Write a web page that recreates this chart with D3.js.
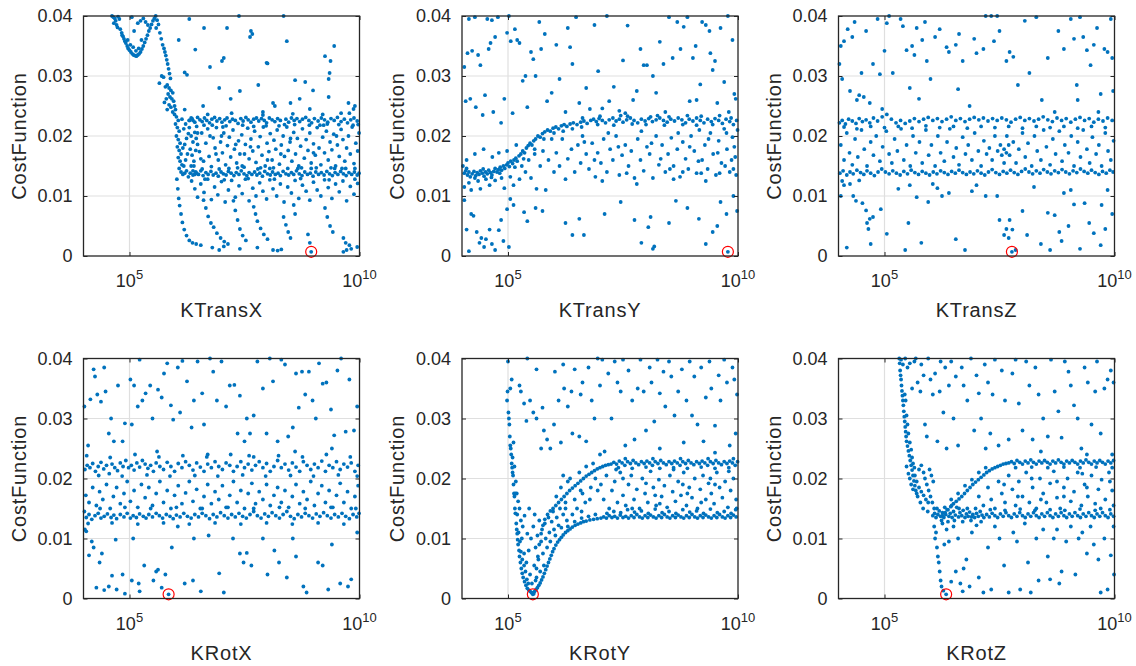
<!DOCTYPE html>
<html><head><meta charset="utf-8">
<script src="https://cdn.jsdelivr.net/npm/d3@7"></script>
<style>
body{margin:0;background:#fff}
svg{display:block}
text{font-family:"Liberation Sans",Arial,Helvetica,sans-serif;fill:#262626}
</style>
</head><body>
<svg id="chart" width="1136" height="666"></svg>
<script>
// Each point: [log10(K), CostFunction in units of 1e-4]
const Y_UNIT = 1e-4;

const kTransX = [
[4.62,400],[4.65,398],[4.68,396],[4.70,392],[4.66,388],[4.72,385],[4.75,399],[4.78,395],[4.74,381],[4.80,378],[4.83,372],[4.86,366],[4.88,362],[4.84,368],[4.90,358],[4.92,355],[4.95,350],[4.97,346],[5.00,343],[5.03,340],[5.06,337],[5.09,335],[5.12,334],[5.15,333],[5.18,335],[5.21,337],[5.24,340],[5.27,345],[5.30,350],[5.33,356],[5.36,362],[5.39,368],[5.42,375],[5.45,380],[5.48,386],[5.51,392],[5.54,396],[5.57,400],[4.96,360],[5.02,352],[5.08,348],[5.14,342],[5.20,346],[5.26,360],[5.10,375],[5.18,388],[5.24,392],[5.30,396],[5.05,398],[5.35,390],[5.40,385],[5.60,393],[5.63,386],[5.58,380],[5.66,372],[5.69,362],[5.72,352],[5.75,346],[5.77,340],[5.79,334],[5.81,327],[5.83,320],[5.85,312],[5.87,304],[5.70,300],[5.74,298],[5.89,296],
[5.78,282],[5.82,285],[5.86,280],[5.90,276],[5.94,272],[5.84,270],[5.88,265],[5.92,262],[5.96,258],[5.80,262],[5.76,256],[5.86,252],[5.90,248],[5.98,250],[6.00,244],[5.82,244],[5.94,240],[6.20,306],[6.25,302],[5.65,288],
[5.98,236],[6.02,232],[6.06,226],[6.00,220],[6.04,214],[6.08,208],[6.02,200],[6.06,194],[6.10,188],[6.04,182],[6.08,176],[6.12,170],[6.06,164],[6.10,158],[6.14,152],[6.08,146],[6.12,140],[6.16,136],[6.20,138],[6.24,142],[6.18,150],[6.22,160],[6.26,170],[6.16,180],[6.20,186],[6.24,196],[6.28,204],[6.18,212],[6.22,220],[6.30,226],[6.34,230],[6.38,226],[6.14,228],[6.30,214],[6.34,200],[6.38,190],[6.32,178],[6.36,168],[6.40,158],[6.34,150],[6.38,142],[6.42,136],[6.46,138],[6.28,132],[6.44,176],[6.48,186],[6.42,206],[6.46,216],
[6.30,226],[6.36,229],[6.42,223],[6.48,231],[6.53,227],[6.58,224],[6.63,230],[6.68,226],[6.74,222],[6.79,228],[6.85,231],[6.90,225],[6.96,229],[7.01,223],[7.07,227],[7.12,230],[7.18,224],[7.24,228],[7.30,226],[7.36,221],[7.42,229],[7.47,225],[7.53,231],[7.58,227],[7.64,223],[7.70,228],[7.76,230],[7.81,225],[7.87,229],[7.93,226],[7.98,222],[8.04,230],[8.10,227],[8.16,224],[8.22,229],[8.28,226],[8.40,228],[8.46,223],[8.52,230],[8.58,226],[8.64,229],[8.70,224],[8.76,228],[8.83,231],[8.90,226],[8.96,222],[9.02,229],[9.10,225],[9.17,230],[9.24,227],[9.31,223],[9.38,229],[9.45,226],[9.52,231],[9.60,224],[9.67,228],[9.74,222],[9.81,227],[9.88,230],[9.95,225],
[6.32,138],[6.38,135],[6.44,140],[6.50,136],[6.55,142],[6.60,134],[6.66,139],[6.71,136],[6.77,141],[6.82,135],[6.88,138],[6.93,133],[6.99,140],[7.04,137],[7.10,135],[7.15,141],[7.21,138],[7.27,134],[7.32,139],[7.38,136],[7.43,142],[7.49,137],[7.55,134],[7.60,139],[7.66,136],[7.72,140],[7.77,135],[7.83,138],[7.89,133],[7.94,141],[8.00,137],[8.06,135],[8.11,140],[8.17,136],[8.23,138],[8.28,134],[8.34,141],[8.40,137],[8.46,135],[8.52,139],[8.57,136],[8.63,142],[8.69,137],[8.75,134],[8.81,140],[8.87,136],[8.93,138],[8.99,133],[9.05,140],[9.11,136],[9.17,139],[9.23,135],[9.29,141],[9.35,137],[9.41,134],[9.47,139],[9.53,136],[9.59,141],[9.65,137],[9.71,134],[9.77,139],[9.83,136],[9.89,140],[9.95,135],[9.99,138],
[6.45,196],[6.52,174],[6.57,205],[6.61,158],[6.66,188],[6.70,212],[6.73,166],[6.78,149],[6.82,197],[6.86,180],[6.89,214],[6.93,160],[6.98,190],[7.02,172],[7.05,205],[7.09,152],[7.13,184],[7.17,198],[7.20,165],[7.25,210],[7.28,178],[7.33,155],[7.37,192],[7.40,170],[7.44,202],[7.49,148],[7.52,186],[7.57,213],[7.60,162],[7.64,195],[7.68,175],[7.72,208],[7.75,156],[7.80,182],[7.84,199],[7.88,168],[7.91,215],[7.95,150],[7.99,188],[8.03,174],[8.06,204],[8.10,160],[8.14,193],[8.18,178],[8.21,210],[8.26,153],[8.30,185],[8.34,200],[8.37,166],[8.42,215],[8.45,176],[8.49,190],[8.53,158],[8.57,206],[8.61,170],[8.65,196],[8.68,150],[8.72,183],[8.76,212],[8.80,163],[8.84,194],[8.88,176],[8.92,205],[8.95,155],[9.00,187],[9.04,168],[9.08,214],[9.12,180],[9.16,152],[9.20,198],[9.24,172],[9.28,208],[9.32,160],[9.36,190],[9.40,177],[9.44,203],[9.48,150],[9.52,185],[9.56,166],[9.60,211],[9.64,194],[9.68,158],[9.72,180],[9.76,200],[9.80,170],[9.84,215],[9.88,154],[9.92,188],[9.96,175],[9.99,205],[6.55,162],[7.00,200],[7.50,170],[8.00,160],[8.50,196],[9.00,172],[9.50,200],
[6.48,205],[6.62,218],[6.75,200],[6.88,170],[7.03,215],[7.16,146],[7.31,186],[7.46,218],[7.63,182],[7.79,145],[7.97,217],[8.13,147],[8.29,170],[8.44,146],[8.59,219],[8.74,147],[8.91,218],[9.06,147],[9.22,218],[9.38,147],[9.55,219],[9.70,146],[9.86,218],[6.40,150],[6.58,145],[6.95,145],[7.35,147],[7.70,216],[8.05,146],[8.37,219],[8.66,146],[9.14,218],[9.46,146],[9.90,146],[6.80,218],[7.10,217],[7.45,150],[7.85,147],[8.25,217],[8.95,146],[9.30,220],[9.62,146],[9.97,219],[6.70,236],[7.22,238],[7.90,235],[8.55,237],[9.20,236],[9.78,238],[6.64,128],[7.06,127],[7.58,129],[8.15,128],[8.72,129],[9.34,127],[9.90,128],
[6.35,125],[6.42,112],[6.48,98],[6.55,120],[6.62,106],[6.70,128],[6.78,94],[6.85,115],[6.92,102],[7.00,124],[7.08,90],[7.15,110],[7.22,126],[7.30,98],[7.38,117],[7.45,104],[7.52,128],[7.60,92],[7.68,113],[7.75,100],[7.83,122],[7.90,108],[7.98,95],[8.05,127],[8.12,112],[8.20,100],[8.28,120],[8.36,90],[8.44,115],[8.52,105],[8.60,126],[8.68,96],[8.76,118],[8.84,108],[8.92,93],[9.00,123],[9.08,110],[9.16,100],[9.24,127],[9.32,114],[9.40,96],[9.48,120],[9.56,107],[9.64,125],[9.72,92],[9.80,116],[9.88,103],[9.96,121],
[6.03,128],[6.05,112],[6.07,96],[6.09,84],[6.12,70],[6.15,56],[6.19,44],[6.24,34],[6.30,26],[6.37,22],[6.45,20],[6.55,18],
[6.61,93],[6.66,80],[6.71,66],[6.77,55],[6.83,48],[6.90,38],[6.98,30],[7.06,24],[7.14,20],
[7.26,92],[7.30,76],[7.35,60],[7.40,45],[7.46,34],[7.53,26],
[7.70,82],[7.74,70],[7.78,58],[7.85,46],[7.92,36],[8.00,28],
[8.35,65],[8.40,52],[8.45,40],[8.50,30],[8.57,85],[8.60,70],[8.88,36],[8.92,22],
[9.25,80],[9.30,65],[9.36,50],[9.42,40],[9.65,30],[9.70,22],[9.78,18],
[6.95,10],[7.40,12],[7.78,14],[8.12,10],[8.22,9],[8.30,11],[9.65,7],[9.72,10],[9.82,12],[9.95,15],[6.80,14],[7.05,16],
[6.07,360],[6.30,395],[6.43,344],[6.62,380],[6.75,315],[6.95,280],[7.01,325],[7.05,330],[7.12,380],[7.38,400],[7.40,275],[7.62,365],[7.64,375],[7.67,370],[7.80,285],[7.98,322],[8.00,321],[8.12,255],[8.16,250],[8.35,400],[8.42,358],[8.50,255],[8.60,293],[8.82,290],[8.92,245],[8.99,276],[9.25,333],[9.33,265],[9.33,295],[9.35,305],[9.37,325],[9.45,350],[9.76,255],[9.87,245],[6.20,244],[6.60,250],[7.20,262],[7.90,240],[8.70,262],[9.60,238],[9.90,250],
[8.95,7]
];

const kTransY = [
[4.02,150],[4.05,138],[4.08,142],[4.12,135],[4.15,140],[4.18,132],[4.22,137],[4.26,141],[4.30,134],[4.33,139],[4.37,136],[4.40,142],[4.44,138],[4.48,133],[4.51,140],[4.55,137],[4.58,143],[4.62,139],[4.65,135],[4.69,141],[4.72,146],[4.76,140],[4.79,144],[4.83,148],[4.86,143],[4.90,150],[4.93,146],[4.97,152],[5.00,155],[5.03,149],[5.06,158],[5.10,154],[5.13,160],[5.17,163],[5.20,158],[5.24,167],[5.28,170],[5.32,175],[5.36,172],[5.40,180],[5.44,184],[5.48,188],[5.52,185],[5.56,192],[5.60,195],[5.65,200],[5.70,198],[5.75,204],[5.80,207],[5.86,210],[5.92,208],[5.98,213],[6.04,215],[6.10,212],[6.16,217],[6.22,219],[6.28,216],[6.35,220],[6.42,222],[6.50,219],[6.58,223],[6.65,225],[6.72,221],[6.80,226],
[6.86,228],[6.92,224],[6.98,229],[7.05,226],[7.12,222],[7.20,227],[7.28,230],[7.35,225],[7.42,228],[7.50,223],[7.58,227],[7.66,230],[7.74,226],[7.82,222],[7.90,228],[7.98,225],[8.06,229],[8.14,224],[8.22,227],[8.30,230],[8.38,226],[8.46,223],[8.54,228],[8.62,225],[8.70,230],[8.78,227],[8.86,222],[8.94,228],[9.02,225],[9.10,230],[9.18,226],[9.26,222],[9.34,228],[9.42,224],[9.50,229],[9.58,226],[9.66,221],[9.74,228],[9.82,224],[9.90,219],[9.97,226],[8.50,232],[8.10,232],[7.60,233],[9.20,233],
[4.10,146],[4.28,130],[4.46,145],[4.64,131],[4.82,138],[5.15,148],[5.34,162],[5.58,178],[5.78,195],[6.00,205],[6.20,208],[6.40,212],[6.60,215],[6.95,219],[7.30,218],[7.70,220],[8.00,219],[8.40,218],[8.80,219],[9.10,218],[9.45,219],[9.85,230],[7.00,233],[7.45,234],[8.25,234],[8.90,234],[9.60,234],
[4.05,115],[4.10,160],[4.15,122],[4.20,110],[4.28,170],[4.35,125],[4.40,112],[4.47,178],[4.52,128],[4.60,118],[4.66,165],[4.72,126],[4.80,172],[4.86,130],[4.92,113],[4.98,175],[5.05,132],[5.12,118],[5.18,185],[5.25,128],[5.30,150],[5.38,140],[5.45,160],[5.50,130],[5.58,170],[5.62,112],[5.70,150],[5.76,175],[5.82,110],[5.88,160],[5.95,195],[6.00,140],[6.05,172],[6.12,150],[6.18,195],[6.25,128],[6.30,162],[6.38,178],[6.45,140],[6.52,185],[6.58,155],[6.62,200],[6.70,170],[6.76,145],[6.83,188],[6.90,132],[6.95,172],[7.02,155],[7.08,195],[7.15,140],[7.22,178],[7.28,160],[7.35,200],[7.42,135],[7.48,168],[7.55,185],[7.62,150],[7.68,175],[7.75,130],[7.82,195],[7.88,160],[7.95,142],[8.02,182],[8.08,170],[8.15,130],[8.22,200],[8.28,152],[8.35,185],[8.42,140],[8.48,170],[8.55,197],[8.60,150],[8.68,178],[8.74,132],[8.80,190],[8.86,162],[8.92,145],[8.98,200],[9.05,175],[9.10,138],[9.16,210],[9.22,160],[9.28,185],[9.34,145],[9.40,205],[9.46,170],[9.52,135],[9.58,192],[9.64,155],[9.70,212],[9.76,178],[9.82,140],[9.88,198],[9.94,165],[9.99,210],[9.60,138],[9.20,138],[8.80,140],[9.90,145],[9.75,205],
[6.66,190],[6.88,160],[7.18,205],[7.40,182],[7.58,138],[7.90,208],[8.12,188],[8.32,162],[8.52,145],[8.70,205],[8.95,182],[9.14,158],[9.36,195],[9.56,172],[9.72,150],[9.92,182],[9.86,160],[9.96,135],[7.05,125],[7.80,120],[8.60,128],[9.30,125],
[4.05,315],[4.08,258],[4.12,338],[4.15,395],[4.18,262],[4.22,342],[4.28,398],[4.30,248],[4.35,335],[4.40,318],[4.45,235],[4.50,268],[4.55,395],[4.58,345],[4.62,355],[4.65,393],[4.68,240],[4.72,365],[4.78,398],[4.85,222],[4.92,262],[4.98,372],[5.02,400],[5.06,358],[5.10,238],[5.15,378],[5.20,360],[5.25,355],[5.32,292],[5.38,300],[5.42,248],[5.50,340],[5.55,328],[5.60,300],[5.68,390],[5.72,345],[5.80,370],[5.85,258],[5.95,272],[6.05,352],[6.12,295],[6.25,240],[6.30,380],[6.35,348],[6.40,320],[6.48,398],[6.55,255],[6.62,230],[6.70,280],[6.78,245],[6.88,385],[6.96,308],[7.05,246],[7.15,400],[7.20,258],[7.30,282],[7.42,242],[7.50,326],[7.55,238],[7.60,384],[7.72,260],[7.80,275],[7.88,345],[7.95,318],[8.02,318],[8.15,300],[8.22,272],[8.30,357],[8.38,320],[8.42,240],[8.50,398],[8.58,330],[8.68,390],[8.75,345],[8.82,382],[8.90,398],[8.95,258],[9.02,330],[9.08,350],[9.10,260],[9.18,286],[9.22,390],[9.30,385],[9.38,375],[9.40,338],[9.45,310],[9.50,325],[9.55,255],[9.62,380],[9.70,290],[9.78,400],[9.88,360],[9.92,270],[9.95,262],[9.80,240],
[4.05,93],[4.10,44],[4.15,8],[4.20,70],[4.25,67],[4.32,40],[4.38,22],[4.42,30],[4.48,15],[4.52,28],[4.60,44],[4.65,20],[4.72,10],[4.80,43],[4.85,60],[4.90,25],[4.98,78],[5.02,15],[5.05,95],[5.12,85],[5.35,73],[5.42,58],[5.60,80],[5.75,75],[6.25,55],[6.40,35],[6.55,62],[6.65,35],[7.10,70],[7.45,90],[7.75,60],[7.90,22],[8.05,48],[8.10,65],[8.15,12],[8.18,16],[8.50,55],[8.65,92],[8.90,80],[9.15,62],[9.30,20],[9.45,40],[9.55,50],[9.62,90],[9.75,70],[9.90,100],[9.98,75],
[9.78,7]
];

const kTransZ = [
[4.02,222],[4.08,226],[4.15,220],[4.22,228],[4.30,225],[4.38,221],[4.45,229],[4.52,224],[4.60,227],[4.68,222],[4.76,230],[4.85,225],[4.95,232],[5.05,236],[5.15,228],[5.25,222],[5.35,226],[5.45,221],[5.55,225],[5.65,229],[5.75,224],[5.85,228],[5.95,231],[6.05,226],[6.15,229],[6.25,224],[6.35,228],[6.45,232],[6.55,226],[6.65,229],[6.75,224],[6.85,228],[6.95,231],[7.05,227],[7.15,230],[7.25,225],[7.35,229],[7.45,226],[7.55,230],[7.65,227],[7.75,223],[7.85,228],[7.95,231],[8.05,226],[8.15,229],[8.25,225],[8.35,228],[8.45,232],[8.55,227],[8.65,224],[8.75,230],[8.85,226],[8.95,229],[9.05,223],[9.15,228],[9.25,231],[9.35,226],[9.45,229],[9.55,223],[9.65,228],[9.75,225],[9.85,230],[9.95,226],
[4.12,215],[4.40,212],[4.70,216],[5.00,214],[5.30,216],[5.60,213],[5.90,217],[6.20,214],[6.50,216],[6.80,213],[7.10,216],[7.40,214],[7.70,216],[8.00,213],[8.30,216],[8.60,214],[8.90,216],[9.20,213],[9.50,216],[9.80,214],
[4.03,138],[4.10,142],[4.18,135],[4.25,140],[4.32,137],[4.40,143],[4.48,139],[4.55,136],[4.62,142],[4.70,138],[4.78,134],[4.86,140],[4.94,145],[5.02,140],[5.10,137],[5.18,142],[5.26,138],[5.34,135],[5.42,141],[5.50,137],[5.58,143],[5.66,139],[5.74,136],[5.82,141],[5.90,138],[5.98,135],[6.06,140],[6.14,137],[6.22,142],[6.30,139],[6.38,136],[6.46,141],[6.54,138],[6.62,143],[6.70,139],[6.78,136],[6.86,140],[6.94,137],[7.02,142],[7.10,138],[7.18,135],[7.26,140],[7.34,144],[7.42,139],[7.50,136],[7.58,141],[7.66,138],[7.74,143],[7.82,139],[7.90,136],[7.98,141],[8.06,145],[8.14,140],[8.22,137],[8.30,142],[8.38,138],[8.46,144],[8.54,140],[8.62,137],[8.70,142],[8.78,139],[8.86,144],[8.94,140],[9.02,137],[9.10,142],[9.18,139],[9.26,145],[9.34,141],[9.42,138],[9.50,143],[9.58,139],[9.66,136],[9.74,141],[9.82,138],[9.90,143],[9.97,140],
[4.05,185],[4.12,160],[4.18,205],[4.24,172],[4.30,152],[4.36,195],[4.42,165],[4.50,210],[4.56,178],[4.62,150],[4.70,190],[4.76,168],[4.82,200],[4.90,158],[4.96,182],[5.04,208],[5.10,170],[5.16,155],[5.22,195],[5.28,175],[5.36,212],[5.42,160],[5.48,185],[5.56,150],[5.62,200],[5.68,172],[5.76,190],[5.82,155],[5.90,210],[5.96,168],[6.02,185],[6.10,150],[6.16,200],[6.22,172],[6.30,158],[6.36,190],[6.42,212],[6.50,165],[6.56,180],[6.62,152],[6.70,198],[6.76,170],[6.82,185],[6.90,160],[6.96,205],[7.04,175],[7.10,150],[7.16,192],[7.22,170],[7.28,180],[7.34,160],[7.40,200],[7.46,175],[7.52,185],[7.60,155],[7.66,200],[7.72,168],[7.80,190],[7.86,155],[7.92,178],[8.00,205],[8.06,165],[8.12,188],[8.20,150],[8.26,200],[8.32,175],[8.40,160],[8.46,210],[8.52,182],[8.60,152],[8.66,195],[8.72,170],[8.80,208],[8.86,158],[8.92,185],[9.00,172],[9.06,200],[9.12,150],[9.20,190],[9.26,165],[9.32,210],[9.40,178],[9.46,155],[9.52,198],[9.60,170],[9.66,185],[9.72,150],[9.80,205],[9.86,175],[9.92,160],[9.98,192],[7.60,178],[7.65,172],[7.70,185],[7.55,168],
[4.05,100],[4.08,125],[4.12,118],[4.18,14],[4.25,120],[4.32,100],[4.38,92],[4.45,126],[4.52,88],[4.60,76],[4.62,55],[4.65,45],[4.68,62],[4.70,20],[4.75,65],[4.92,78],[5.05,37],[5.30,112],[5.45,10],[5.52,55],[5.55,118],[5.70,98],[5.80,22],[5.95,90],[6.05,120],[6.15,113],[6.25,100],[6.40,105],[6.55,28],[6.75,10],[6.90,108],[7.00,118],[7.20,100],[7.45,100],[7.50,60],[7.60,35],[7.65,45],[7.70,30],[7.72,60],[7.78,44],[7.85,10],[8.00,75],[8.10,35],[8.25,115],[8.40,20],[8.55,72],[8.60,10],[8.70,68],[8.80,40],[8.85,25],[8.90,105],[9.00,50],[9.05,110],[9.12,86],[9.25,12],[9.35,88],[9.45,55],[9.55,38],[9.70,18],[9.72,85],[9.80,45],[9.85,110],[9.95,70],
[4.02,320],[4.05,350],[4.08,295],[4.12,358],[4.20,378],[4.25,275],[4.30,365],[4.35,390],[4.40,260],[4.45,268],[4.50,305],[4.55,265],[4.60,375],[4.68,255],[4.75,320],[4.85,395],[4.90,303],[4.95,245],[5.00,342],[5.05,388],[5.10,400],[5.18,305],[5.35,395],[5.40,383],[5.48,343],[5.55,280],[5.60,350],[5.65,335],[5.70,380],[5.75,262],[5.82,360],[5.88,390],[5.92,325],[6.00,295],[6.10,365],[6.20,378],[6.35,348],[6.40,340],[6.55,352],[6.60,278],[6.62,370],[6.70,325],[6.85,250],[6.95,362],[7.00,338],[7.15,345],[7.20,400],[7.32,400],[7.38,358],[7.45,400],[7.50,375],[7.65,325],[7.72,340],[7.80,332],[7.90,285],[8.05,392],[8.15,305],[8.30,398],[8.42,260],[8.55,330],[8.70,240],[8.78,375],[8.90,345],[9.05,395],[9.12,362],[9.18,285],[9.25,398],[9.32,365],[9.40,343],[9.48,318],[9.55,352],[9.62,380],[9.70,270],[9.78,345],[9.85,340],[9.95,330],[9.92,395],[9.97,275],[9.65,240],[9.20,260],
[7.77,7]
];

const kRotX = [
[4.03,215],[4.08,222],[4.14,218],[4.20,225],[4.26,212],[4.32,220],[4.38,227],[4.44,216],[4.50,222],[4.56,208],[4.62,224],[4.68,218],[4.74,213],[4.80,226],[4.86,220],[4.92,230],[4.98,218],[5.04,222],[5.10,214],[5.16,226],[5.22,219],[5.28,230],[5.34,224],[5.40,217],[5.46,222],[5.52,212],[5.58,226],[5.66,220],[5.74,215],[5.82,227],[5.90,220],[5.98,212],[6.06,225],[6.14,218],[6.22,228],[6.30,222],[6.38,214],[6.46,226],[6.54,219],[6.62,212],[6.70,224],[6.78,218],[6.86,228],[6.94,220],[7.02,215],[7.10,226],[7.18,222],[7.26,212],[7.34,220],[7.42,228],[7.50,218],[7.58,224],[7.66,214],[7.74,222],[7.82,228],[7.90,218],[7.98,225],[8.06,212],[8.14,220],[8.22,230],[8.30,218],[8.38,224],[8.46,214],[8.54,226],[8.62,219],[8.70,212],[8.78,228],[8.86,222],[8.94,215],[9.02,224],[9.10,218],[9.18,229],[9.26,212],[9.34,222],[9.42,218],[9.50,228],[9.58,215],[9.66,224],[9.74,219],[9.82,226],[9.90,212],[9.97,222],
[4.07,238],[4.33,205],[4.58,235],[4.84,204],[5.12,240],[5.38,206],[5.64,236],[5.88,204],[6.16,238],[6.42,205],[6.68,236],[6.92,204],[7.20,240],[7.46,206],[7.70,236],[7.96,204],[8.24,238],[8.50,205],[8.76,236],[9.00,204],[9.28,240],[9.54,206],[9.80,236],[9.95,204],
[4.02,145],[4.06,135],[4.12,140],[4.18,132],[4.25,138],[4.32,142],[4.38,134],[4.45,137],[4.52,141],[4.60,135],[4.66,139],[4.72,133],[4.80,140],[4.88,136],[4.95,142],[5.02,134],[5.08,138],[5.15,135],[5.22,141],[5.30,137],[5.36,134],[5.42,140],[5.50,136],[5.58,142],[5.65,138],[5.72,134],[5.80,140],[5.88,137],[5.95,133],[6.02,139],[6.10,136],[6.18,142],[6.26,137],[6.34,134],[6.42,140],[6.50,136],[6.58,142],[6.66,138],[6.74,133],[6.82,140],[6.90,136],[6.98,143],[7.06,138],[7.14,134],[7.22,140],[7.30,136],[7.38,142],[7.46,137],[7.54,134],[7.62,140],[7.70,145],[7.78,138],[7.86,134],[7.94,141],[8.02,137],[8.10,143],[8.18,138],[8.26,134],[8.34,140],[8.42,145],[8.50,137],[8.58,133],[8.66,140],[8.74,136],[8.82,142],[8.90,138],[8.98,134],[9.06,141],[9.14,137],[9.22,143],[9.30,138],[9.38,134],[9.46,140],[9.54,136],[9.62,142],[9.70,137],[9.78,133],[9.86,140],[9.94,136],[9.99,142],
[4.10,125],[4.36,150],[4.62,126],[4.90,152],[5.18,124],[5.46,150],[5.74,126],[6.02,152],[6.30,124],[6.58,150],[6.86,126],[7.14,152],[7.42,124],[7.70,150],[7.98,126],[8.26,152],[8.54,124],[8.82,150],[9.10,126],[9.38,152],[9.66,124],[9.92,150],
[4.05,172],[4.12,160],[4.20,185],[4.28,155],[4.35,178],[4.42,165],[4.50,190],[4.58,150],[4.65,170],[4.72,185],[4.80,158],[4.88,175],[4.95,195],[5.02,162],[5.10,180],[5.18,152],[5.26,190],[5.34,168],[5.42,185],[5.50,155],[5.58,175],[5.66,195],[5.74,160],[5.82,180],[5.90,150],[5.98,172],[6.06,188],[6.14,158],[6.22,176],[6.30,195],[6.38,162],[6.46,182],[6.54,150],[6.62,170],[6.70,190],[6.78,158],[6.86,178],[6.94,165],[7.02,188],[7.10,152],[7.18,172],[7.26,195],[7.34,160],[7.42,180],[7.50,150],[7.58,175],[7.66,192],[7.74,158],[7.82,178],[7.90,165],[7.98,190],[8.06,155],[8.14,172],[8.22,185],[8.30,160],[8.38,180],[8.46,152],[8.54,170],[8.62,190],[8.70,158],[8.78,178],[8.86,165],[8.94,195],[9.02,155],[9.10,175],[9.18,188],[9.26,160],[9.34,180],[9.42,152],[9.50,172],[9.58,192],[9.66,160],[9.74,178],[9.82,150],[9.90,170],[9.97,188],
[4.02,320],[4.10,255],[4.15,332],[4.22,382],[4.25,370],[4.30,340],[4.38,328],[4.45,385],[4.48,345],[4.55,275],[4.60,300],[4.66,262],[4.75,355],[4.85,262],[4.90,292],[5.02,365],[5.05,290],[5.10,355],[5.18,320],[5.22,398],[5.28,330],[5.35,342],[5.45,355],[5.50,300],[5.62,348],[5.70,335],[5.75,375],[5.82,392],[5.90,322],[5.95,298],[6.05,385],[6.10,310],[6.15,396],[6.25,362],[6.35,285],[6.40,330],[6.48,395],[6.58,342],[6.62,290],[6.75,400],[6.82,378],[6.90,330],[7.00,395],[7.10,320],[7.18,355],[7.28,356],[7.35,275],[7.40,338],[7.50,262],[7.55,300],[7.62,275],[7.70,305],[7.78,395],[7.90,350],[7.98,275],[8.05,400],[8.12,362],[8.22,262],[8.30,398],[8.38,390],[8.45,270],[8.55,285],[8.62,375],[8.68,318],[8.75,378],[8.82,340],[8.90,378],[8.98,330],[9.05,300],[9.12,392],[9.20,358],[9.28,360],[9.38,315],[9.45,272],[9.52,380],[9.60,400],[9.70,278],[9.78,365],[9.88,280],[9.95,320],[9.40,250],[8.60,245],[7.60,238],[6.70,240],[5.60,245],
[4.03,115],[4.06,112],[4.12,72],[4.18,95],[4.22,85],[4.28,18],[4.35,60],[4.40,75],[4.45,14],[4.55,20],[4.62,38],[4.70,98],[4.72,15],[4.85,40],[4.90,8],[5.05,30],[5.08,100],[5.20,25],[5.22,12],[5.32,55],[5.52,30],[5.58,45],[5.62,48],[5.70,18],[5.78,40],[5.92,85],[6.05,120],[6.20,25],[6.38,30],[6.40,100],[6.55,12],[6.72,105],[6.95,42],[7.05,10],[7.25,100],[7.40,75],[7.48,60],[7.55,76],[7.65,55],[7.90,100],[8.00,40],[8.15,80],[8.25,60],[8.42,35],[8.55,100],[8.62,70],[8.78,20],[8.85,10],[9.10,60],[9.20,55],[9.32,15],[9.40,90],[9.58,25],[9.75,20],[9.82,32],[9.95,110],
[5.85,7]
];

const kRotY = [
[4.98,330],[4.99,345],[5.00,395],[5.01,310],[5.02,300],[5.03,290],[5.04,270],[5.05,255],[5.06,250],[5.08,365],[5.07,240],[5.08,225],[5.09,218],[5.10,210],[5.11,205],[5.12,190],[5.13,175],[5.14,170],[5.15,150],[5.16,142],[5.18,125],[5.19,115],[5.20,108],[5.21,98],[5.22,90],[5.24,80],[5.25,70],[5.27,60],[5.29,50],[5.31,42],[5.33,35],[5.36,28],[5.39,22],[5.42,17],[5.45,14],[5.48,12],[5.51,10],[5.53,9],[5.56,8],[5.10,235],[5.14,220],[5.17,195],[5.19,175],[5.23,110],[5.26,95],[5.28,78],[5.31,65],[5.35,55],[5.38,45],[5.41,32],[5.44,25],[5.12,260],[5.16,175],
[5.58,12],[5.61,15],[5.64,18],[5.67,22],[5.70,26],[5.73,31],[5.76,36],[5.79,42],[5.82,48],[5.85,54],[5.88,60],[5.91,66],[5.94,72],[5.97,78],[6.00,83],[6.04,89],[6.08,94],[6.12,98],[6.16,102],[6.20,106],[6.25,110],[6.30,113],[6.35,116],[6.40,119],[6.46,122],[6.52,124],[6.58,126],[6.64,128],[6.70,129],[6.78,131],[6.86,132],[6.94,133],[7.02,134],
[7.08,136],[7.14,134],[7.20,138],[7.26,135],[7.32,137],[7.38,134],[7.44,139],[7.50,135],[7.56,137],[7.62,134],[7.68,138],[7.74,135],[7.80,140],[7.86,136],[7.92,134],[7.98,138],[8.04,135],[8.10,139],[8.16,136],[8.22,134],[8.28,138],[8.34,135],[8.40,140],[8.46,136],[8.52,134],[8.58,138],[8.64,135],[8.70,139],[8.76,136],[8.82,134],[8.88,138],[8.94,135],[9.00,140],[9.06,136],[9.12,134],[9.18,138],[9.24,135],[9.30,139],[9.36,136],[9.42,134],[9.48,138],[9.54,135],[9.60,140],[9.66,136],[9.72,134],[9.78,138],[9.84,135],[9.90,139],[9.96,136],
[7.30,145],[7.60,148],[7.90,146],[8.20,149],[8.50,145],[8.80,148],[9.10,146],[9.40,149],[9.70,145],[9.95,148],[7.15,142],[7.45,143],[7.75,144],[8.05,142],[8.35,143],[8.65,142],[8.95,144],[9.25,142],[9.55,143],[9.85,142],[6.60,134],[6.75,137],[6.90,140],[6.45,128],[6.30,120],
[5.40,60],[5.45,80],[5.48,40],[5.50,100],[5.52,25],[5.55,120],[5.57,55],[5.60,85],[5.62,35],[5.64,105],[5.66,65],[5.68,130],[5.70,45],[5.72,95],[5.74,115],[5.76,75],[5.78,55],[5.80,125],[5.82,100],[5.85,85],[5.88,135],[5.90,110],[5.92,95],[5.95,128],[5.98,145],[6.00,115],[6.03,105],[6.06,135],[6.10,122],[6.13,150],[6.16,118],[6.20,140],[6.25,160],[6.28,130],[5.35,75],[5.30,100],[5.28,130],[5.32,120],[5.36,138],[5.42,108],[5.46,150],[5.58,140],[5.25,150],[5.22,162],[5.20,140],
[5.60,30],[5.62,50],[5.65,70],[5.68,90],[5.72,108],[5.76,122],[5.80,132],[5.86,140],[5.92,146],[5.98,150],[6.04,155],[6.10,160],[6.16,165],[6.22,170],[6.28,175],[6.34,180],[6.40,184],[6.46,188],[6.52,192],[6.58,196],[6.64,200],[6.70,204],[6.76,207],[6.82,210],[6.88,213],[6.94,216],[7.00,218],[7.06,220],[7.12,222],[7.18,223],[7.24,224],
[6.05,170],[6.15,185],[6.25,150],[6.35,200],[6.45,165],[6.55,210],[6.62,175],[6.70,220],[6.80,185],[6.90,200],[6.50,150],[6.68,160],[6.85,225],[6.30,195],[6.20,205],[6.40,140],[6.58,180],[6.78,165],[6.95,180],[6.60,145],
[7.30,227],[7.36,224],[7.42,229],[7.48,226],[7.54,222],[7.60,228],[7.66,225],[7.72,230],[7.78,226],[7.84,223],[7.90,228],[7.96,225],[8.02,229],[8.08,226],[8.14,222],[8.20,228],[8.26,225],[8.32,230],[8.38,226],[8.44,223],[8.50,228],[8.56,225],[8.62,229],[8.68,226],[8.74,222],[8.80,228],[8.86,225],[8.92,230],[8.98,226],[9.04,223],[9.10,228],[9.16,225],[9.22,229],[9.28,226],[9.34,222],[9.40,228],[9.46,225],[9.52,230],[9.58,226],[9.64,223],[9.70,228],[9.76,225],[9.82,229],[9.88,226],[9.94,222],[9.99,228],
[7.40,218],[7.70,217],[8.00,219],[8.30,217],[8.60,218],[8.90,217],[9.20,219],[9.50,217],[9.80,218],[7.55,233],[8.15,233],[8.75,233],[9.35,233],[9.90,233],
[7.02,190],[7.08,165],[7.14,205],[7.20,150],[7.26,180],[7.32,195],[7.38,160],[7.44,210],[7.50,172],[7.56,155],[7.62,190],[7.68,205],[7.74,165],[7.80,182],[7.86,150],[7.92,200],[7.98,175],[8.04,160],[8.10,212],[8.16,185],[8.22,155],[8.28,198],[8.34,170],[8.40,188],[8.46,152],[8.52,205],[8.58,178],[8.64,162],[8.70,195],[8.76,172],[8.82,210],[8.88,155],[8.94,185],[9.00,168],[9.06,200],[9.12,150],[9.18,182],[9.24,205],[9.30,165],[9.36,192],[9.42,175],[9.48,158],[9.54,210],[9.60,185],[9.66,168],[9.72,195],[9.78,152],[9.84,180],[9.90,200],[9.96,165],[7.35,215],[7.70,150],[8.00,192],[8.30,158],[8.60,215],[8.90,175],[9.20,160],[9.50,190],[9.80,212],[9.97,150],[7.50,200],[8.20,172],[8.80,190],[9.40,200],
[5.05,350],[5.25,355],[5.28,345],[5.35,325],[5.40,296],[5.42,400],[5.48,330],[5.55,310],[5.62,300],[5.62,382],[5.72,250],[5.75,318],[5.78,280],[5.85,265],[5.92,250],[6.00,290],[6.02,378],[6.10,330],[6.15,260],[6.20,390],[6.22,350],[6.30,320],[6.38,345],[6.40,275],[6.45,382],[6.55,270],[6.58,340],[6.62,360],[6.70,262],[6.75,385],[6.82,330],[6.88,300],[6.95,400],[7.00,355],[7.05,398],[7.10,245],[7.18,375],[7.25,300],[7.32,395],[7.38,360],[7.45,345],[7.50,398],[7.55,255],[7.62,380],[7.70,330],[7.75,265],[7.82,350],[7.88,398],[7.95,345],[8.00,280],[8.08,385],[8.12,360],[8.18,295],[8.25,398],[8.30,342],[8.38,378],[8.42,320],[8.50,395],[8.55,370],[8.62,305],[8.70,345],[8.78,382],[8.82,260],[8.88,330],[8.95,395],[9.00,305],[9.05,370],[9.12,290],[9.20,385],[9.25,262],[9.30,335],[9.38,395],[9.42,350],[9.50,288],[9.58,372],[9.62,330],[9.70,398],[9.76,360],[9.82,255],[9.88,385],[9.92,365],[9.98,340],[9.95,275],[8.30,250],[7.00,240],[9.50,243],
[5.54,7]
];

const kRotZ = [
[5.32,400],[5.33,392],[5.34,380],[5.35,372],[5.36,365],[5.37,355],[5.38,346],[5.39,338],[5.40,330],[5.41,322],[5.42,312],[5.43,303],[5.44,295],[5.45,286],[5.46,278],[5.47,270],[5.48,262],[5.50,254],[5.52,246],[5.54,238],[5.56,230],[5.58,222],[5.60,214],[5.62,205],[5.64,196],[5.66,188],[5.68,180],[5.70,175],[5.72,170],[5.36,398],[5.40,390],[5.44,340],[5.46,330],[5.48,305],[5.50,290],[5.52,275],[5.55,260],[5.58,248],[5.60,235],[5.62,225],[5.65,218],[5.55,200],[5.58,190],[5.62,182],[5.52,208],[5.48,220],[5.66,205],[5.70,195],[5.75,185],[5.80,178],[5.85,172],[5.90,165],[5.95,160],
[5.75,215],[5.80,222],[5.85,210],[5.88,200],[5.92,190],[5.96,180],[6.00,170],[6.04,160],[6.08,150],[5.98,215],[6.02,205],[6.06,195],[5.78,160],[5.84,150],[5.94,145],
[6.05,138],[6.09,142],[6.12,135],[6.16,140],[6.19,146],[6.22,137],[6.26,143],[6.29,135],[6.33,140],[6.36,148],[6.40,137],[6.43,142],[6.47,135],[6.50,145],[6.54,139],[6.57,152],[6.61,136],[6.64,143],[6.68,138],[6.71,147],[6.75,135],[6.78,141],[6.82,137],[6.85,144],[6.89,136],[6.92,140],[6.96,135],[7.00,142],[7.04,137],[7.08,145],[7.12,139],[7.16,135],
[6.14,150],[6.24,130],[6.31,152],[6.38,128],[6.46,155],[6.52,130],[6.62,150],[6.70,128],[6.80,150],[6.88,130],[6.98,150],[7.10,128],
[7.22,140],[7.28,136],[7.34,142],[7.40,138],[7.46,135],[7.52,141],[7.58,137],[7.64,143],[7.70,138],[7.76,135],[7.82,141],[7.88,137],[7.94,143],[8.00,138],[8.06,135],[8.12,141],[8.18,137],[8.24,143],[8.30,138],[8.36,135],[8.42,141],[8.48,137],[8.54,143],[8.60,138],[8.66,135],[8.72,141],[8.78,137],[8.84,143],[8.90,138],[8.96,135],[9.02,141],[9.08,137],[9.14,143],[9.20,138],[9.26,135],[9.32,141],[9.38,137],[9.44,143],[9.50,138],[9.56,135],[9.62,141],[9.68,137],[9.74,143],[9.80,138],[9.86,135],[9.92,141],[9.98,137],
[7.30,148],[7.62,147],[7.95,149],[8.27,147],[8.60,148],[8.92,147],[9.25,149],[9.58,147],[9.90,148],
[6.26,138],[6.32,143],[6.38,148],[6.44,153],[6.50,158],[6.56,162],[6.62,166],[6.68,170],[6.74,175],[6.80,180],[6.86,185],[6.92,190],[6.98,194],[7.04,198],[7.10,202],[7.16,206],[7.22,210],[7.28,213],[7.34,216],[7.40,218],[7.46,220],[7.52,222],[7.58,224],[7.64,225],[7.70,226],[6.45,165],[6.60,175],[6.75,188],[6.90,198],[7.05,210],[7.20,218],
[7.76,228],[7.82,225],[7.88,230],[7.94,227],[8.00,224],[8.06,229],[8.12,226],[8.18,231],[8.24,227],[8.30,224],[8.36,229],[8.42,226],[8.48,230],[8.54,227],[8.60,224],[8.66,229],[8.72,226],[8.78,231],[8.84,227],[8.90,224],[8.96,229],[9.02,226],[9.08,230],[9.14,227],[9.20,224],[9.26,229],[9.32,226],[9.38,231],[9.44,227],[9.50,224],[9.56,229],[9.62,226],[9.68,230],[9.74,227],[9.80,224],[9.86,229],[9.92,226],[9.98,230],
[7.85,218],[8.20,219],[8.55,218],[8.90,219],[9.25,218],[9.60,219],[9.95,218],
[7.05,170],[7.15,155],[7.25,185],[7.32,165],[7.40,150],[7.48,195],[7.55,175],[7.62,160],[7.70,205],[7.78,182],[7.85,155],[7.92,195],[8.00,170],[8.08,210],[8.15,160],[8.22,185],[8.30,150],[8.38,200],[8.45,175],[8.52,160],[8.60,192],[8.68,212],[8.75,168],[8.82,150],[8.90,185],[8.98,200],[9.05,162],[9.12,178],[9.20,210],[9.28,155],[9.35,190],[9.42,170],[9.50,205],[9.58,158],[9.65,182],[9.72,198],[9.80,165],[9.88,210],[9.95,180],[9.98,155],[7.90,170],[8.40,165],[8.90,170],[9.40,185],[9.90,195],[7.60,190],[8.20,200],[8.75,195],[9.30,208],[9.70,150],
[6.08,120],[6.10,100],[6.12,110],[6.14,85],[6.16,70],[6.18,60],[6.20,45],[6.22,30],[6.24,20],[6.28,13],[6.26,125],[6.30,90],[6.35,115],[6.40,95],[6.45,28],[6.50,120],[6.55,45],[6.60,100],[6.65,25],[6.70,12],[6.72,50],[6.78,65],[6.85,20],[6.90,110],[7.00,122],[7.05,35],[7.15,10],[7.25,85],[7.32,15],[7.40,120],[7.50,100],[7.60,55],[7.70,10],[7.80,110],[7.88,95],[7.95,15],[8.05,125],[8.12,60],[8.18,10],[8.30,100],[8.35,30],[8.45,115],[8.55,70],[8.60,32],[8.68,100],[8.75,115],[8.80,25],[8.85,45],[8.95,95],[9.05,120],[9.15,40],[9.22,100],[9.30,110],[9.40,75],[9.48,120],[9.55,90],[9.65,65],[9.70,10],[9.78,100],[9.85,15],[9.92,72],[9.98,120],[9.99,40],
[5.45,400],[5.50,385],[5.55,392],[5.60,350],[5.65,395],[5.68,400],[5.72,360],[5.78,345],[5.80,390],[5.85,372],[5.88,290],[5.92,270],[5.95,400],[6.00,365],[6.05,340],[6.10,375],[6.15,262],[6.20,345],[6.22,395],[6.28,310],[6.32,385],[6.35,250],[6.40,355],[6.45,395],[6.50,300],[6.55,370],[6.60,255],[6.68,385],[6.72,355],[6.80,330],[6.88,400],[6.95,280],[7.00,372],[7.05,342],[7.10,300],[7.18,390],[7.25,360],[7.30,275],[7.35,340],[7.40,398],[7.48,255],[7.55,380],[7.62,330],[7.70,265],[7.78,375],[7.85,398],[7.92,325],[8.00,280],[8.08,395],[8.15,355],[8.22,265],[8.28,385],[8.35,340],[8.45,300],[8.55,270],[8.62,398],[8.70,345],[8.78,312],[8.85,268],[8.92,395],[9.00,378],[9.05,355],[9.12,322],[9.20,300],[9.28,250],[9.35,385],[9.42,360],[9.50,290],[9.58,345],[9.62,395],[9.70,275],[9.78,350],[9.85,365],[9.92,380],[9.98,360],[9.95,240],[9.40,240],[8.40,245],[7.20,250],
[6.34,7]
];

const panelNames = ["KTransX","KTransY","KTransZ","KRotX","KRotY","KRotZ"];
const panelData = [kTransX, kTransY, kTransZ, kRotX, kRotY, kRotZ];
// best (minimum) sample per parameter: [log10(K), cost in 1e-4]
const bestPoints = [[8.95,7],[9.78,7],[7.77,7],[5.85,7],[5.54,7],[6.34,7]];
const yTickValues = [0, 0.01, 0.02, 0.03, 0.04];
const xTickExponents = [5, 10];
const yAxisLabel = "CostFunction";

const svg = d3.select("#chart");
const W = 276, H = 240;
const lefts = [83.5, 462, 838.5], tops = [16, 358.5];
const x = d3.scaleLog().domain([1e4, 1e10]).range([0, W]);
const y = d3.scaleLinear().domain([0, 0.04]).range([H, 0]);
const ink = "#262626", grid = "#dfdfdf", blue = "#0072BD";

panelNames.forEach((name, i) => {
  const g = svg.append("g")
    .attr("transform", `translate(${lefts[i % 3]},${tops[Math.floor(i / 3)]})`);

  g.append("g").selectAll("line").data(yTickValues.slice(1, -1)).join("line")
    .attr("x1", 0).attr("x2", W).attr("y1", d => y(d)).attr("y2", d => y(d))
    .attr("stroke", grid).attr("stroke-width", 1.2);
  g.append("g").selectAll("line").data(xTickExponents.filter(e => e < 10)).join("line")
    .attr("x1", d => x(10 ** d)).attr("x2", d => x(10 ** d)).attr("y1", 0).attr("y2", H)
    .attr("stroke", grid).attr("stroke-width", 1.2);

  g.append("g").selectAll("circle").data(panelData[i]).join("circle")
    .attr("cx", d => x(10 ** d[0])).attr("cy", d => y(d[1] * Y_UNIT))
    .attr("r", 1.9).attr("fill", blue);

  const b = bestPoints[i];
  g.append("circle").attr("cx", x(10 ** b[0])).attr("cy", y(b[1] * Y_UNIT))
    .attr("r", 5.5).attr("fill", "none").attr("stroke", "#ff0000").attr("stroke-width", 1.2);

  const yl = g.append("g").call(d3.axisLeft(y).tickValues(yTickValues).tickSize(-4).tickSizeOuter(0).tickPadding(11)
      .tickFormat(d => d === 0 ? "0" : d.toFixed(2)));
  const yr = g.append("g").attr("transform", `translate(${W},0)`)
      .call(d3.axisRight(y).tickValues(yTickValues).tickSize(-4).tickSizeOuter(0).tickFormat(""));
  const xb = g.append("g").attr("transform", `translate(0,${H})`)
      .call(d3.axisBottom(x).tickValues(xTickExponents.map(e => 10 ** e)).tickSize(-4).tickSizeOuter(0).tickFormat(""));
  const xt = g.append("g")
      .call(d3.axisTop(x).tickValues(xTickExponents.map(e => 10 ** e)).tickSize(-4).tickSizeOuter(0).tickFormat(""));
  [yl, yr, xb, xt].forEach(a => {
    a.select(".domain").remove();
    a.selectAll("line").attr("stroke", ink).attr("stroke-width", 1);
  });
  yl.selectAll("text").attr("fill", ink).style("font-size", "18px")
    .style("font-family", '"Liberation Sans",Arial,sans-serif');

  xTickExponents.forEach(e => {
    const t = g.append("text").attr("x", x(10 ** e)).attr("y", H + 31)
      .attr("text-anchor", "middle").style("font-size", "18px");
    t.append("tspan").text("10");
    t.append("tspan").attr("dy", -8).style("font-size", "13px").text(e);
  });

  g.append("rect").attr("x", 0).attr("y", 0).attr("width", W).attr("height", H)
    .attr("fill", "none").attr("stroke", ink).attr("stroke-width", 1.3);

  g.append("text").attr("x", W / 2).attr("y", H + 61).attr("text-anchor", "middle")
    .style("font-size", "20px").style("letter-spacing", "0.8px").text(name);
  g.append("text").attr("transform", `translate(-58,${H / 2}) rotate(-90)`)
    .attr("text-anchor", "middle").style("font-size", "20px").style("letter-spacing", "0.8px")
    .text(yAxisLabel);
});
</script>
</body></html>
